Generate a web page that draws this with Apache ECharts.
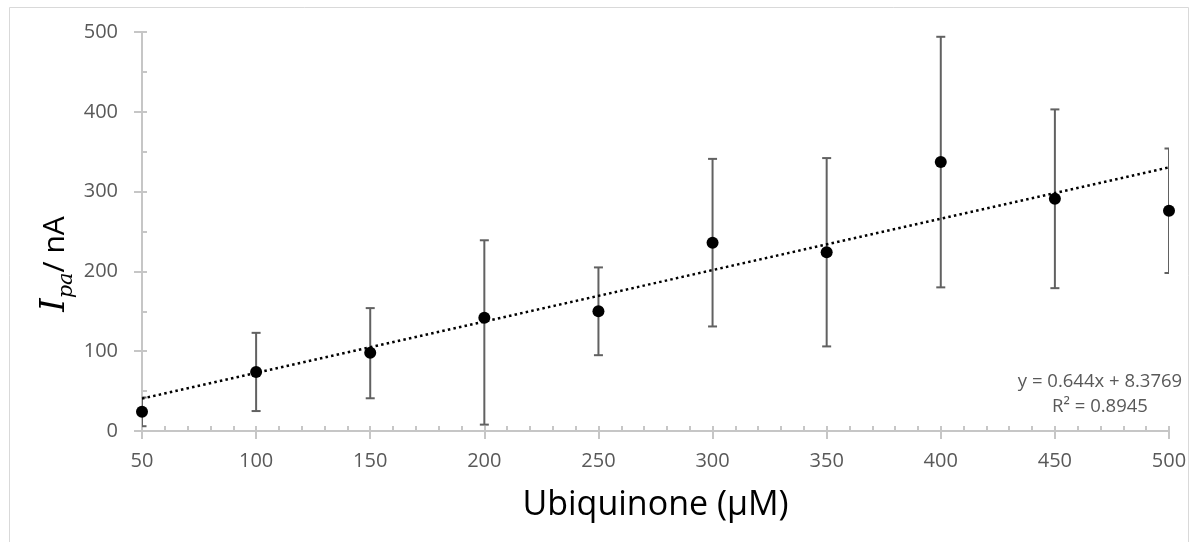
<!DOCTYPE html>
<html><head><meta charset="utf-8">
<script src="https://cdn.jsdelivr.net/npm/echarts@6/dist/echarts.min.js"></script>
<style>html,body{margin:0;padding:0;background:#fff}#c{width:1197px;height:542px}</style>
</head><body><div id="c"></div>
<script>
// Data
const concentrations = [50, 100, 150, 200, 250, 300, 350, 400, 450, 500];
const currentMeans   = [24, 74, 98, 142, 150, 236, 224, 337, 291, 276];
const errorUpper     = [18, 49, 56, 97, 55, 105, 118, 157, 112, 78];
const errorLower     = [18, 49, 57, 134, 55, 105, 118, 157, 112, 78];
const trendX = [50, 500];
const trendY = [40.6, 330.4];
const xTicks = [50, 100, 150, 200, 250, 300, 350, 400, 450, 500];
const yTicks = [0, 100, 200, 300, 400, 500];
const equationLines = ['y = 0.644x + 8.3769', 'R² = 0.8945'];

const axisGray = '#c6c6c6';
const labelGray = '#595959';
const FONT = '"Open Sans", sans-serif';

const chart = echarts.init(document.getElementById('c'), null, {renderer: 'canvas'});

const errorData = concentrations.map((x, i) => [x, currentMeans[i] - errorLower[i], currentMeans[i] + errorUpper[i]]);
const pointData = concentrations.map((x, i) => [x, currentMeans[i]]);
const trendData = trendX.map((x, i) => [x, trendY[i]]);

function mainAxis(isX) {
  return {
    type: 'value',
    min: isX ? xTicks[0] : yTicks[0],
    max: isX ? xTicks[xTicks.length - 1] : yTicks[yTicks.length - 1],
    interval: isX ? xTicks[1] - xTicks[0] : yTicks[1] - yTicks[0],
    axisLine: {show: true, onZero: false, lineStyle: {color: axisGray, width: 2}},
    axisTick: {show: true, inside: false, length: 8, lineStyle: {color: axisGray, width: 2}},
    minorTick: {show: false},
    splitLine: {show: false},
    axisLabel: {color: labelGray, fontSize: 20, fontFamily: FONT, margin: isX ? 20 : 24}
  };
}
function overlayAxis(isX) {
  return {
    type: 'value',
    position: isX ? 'bottom' : 'left',
    min: isX ? xTicks[0] : yTicks[0],
    max: isX ? xTicks[xTicks.length - 1] : yTicks[yTicks.length - 1],
    interval: isX ? xTicks[1] - xTicks[0] : yTicks[1] - yTicks[0],
    axisLine: {show: false, onZero: false},
    axisTick: {show: true, inside: true, length: 5, lineStyle: {color: axisGray, width: 2}},
    minorTick: {show: true, splitNumber: isX ? 5 : 2, length: 5, lineStyle: {color: axisGray, width: 2}},
    splitLine: {show: false},
    axisLabel: {show: false}
  };
}

const xMain = mainAxis(true);
xMain.name = 'Ubiquinone (µM)';
xMain.nameLocation = 'middle';
xMain.nameGap = 57;
xMain.nameTextStyle = {color: '#000', fontSize: 34, fontFamily: FONT};

const option = {
  animation: false,
  backgroundColor: '#fff',
  grid: {left: 142, right: 28, top: 32, bottom: 111, containLabel: false},
  xAxis: [xMain, overlayAxis(true)],
  yAxis: [mainAxis(false), overlayAxis(false)],
  series: [
    {
      type: 'custom', clip: true, z: 2,
      data: errorData,
      encode: {x: 0, y: [1, 2]},
      renderItem: function (params, api) {
        const x = api.value(0), lo = api.value(1), hi = api.value(2);
        const p1 = api.coord([x, hi]), p2 = api.coord([x, lo]);
        const w = 4.5;
        const style = {stroke: '#616161', lineWidth: 2, fill: null};
        return {type: 'group', children: [
          {type: 'line', shape: {x1: p1[0], y1: p1[1], x2: p2[0], y2: p2[1]}, style: style},
          {type: 'line', shape: {x1: p1[0] - w, y1: p1[1], x2: p1[0] + w, y2: p1[1]}, style: style},
          {type: 'line', shape: {x1: p2[0] - w, y1: p2[1], x2: p2[0] + w, y2: p2[1]}, style: style}
        ]};
      }
    },
    {
      type: 'line', z: 3, data: trendData, symbol: 'none', silent: true,
      lineStyle: {color: '#000', width: 2.5, type: [2.5, 3.2]}
    },
    {
      type: 'scatter', z: 4, data: pointData, symbol: 'circle', symbolSize: 12,
      itemStyle: {color: '#000', opacity: 1}
    }
  ],
  graphic: [
    {type: 'rect', silent: true, z: -10, shape: {x: 9.5, y: 7.5, width: 1179, height: 600},
     style: {fill: null, stroke: '#d9d9d9', lineWidth: 1}},
    {type: 'text', silent: true, x: 55, y: 264, rotation: Math.PI / 2,
     style: {
       text: '{i|I}{s|pa}{n|/ nA}',
       align: 'center', verticalAlign: 'middle',
       rich: {
         i: {fontFamily: '"DejaVu Serif", serif', fontStyle: 'italic', fontSize: 34, fill: '#000', lineHeight: 44, verticalAlign: 'middle'},
         s: {fontFamily: '"DejaVu Serif", serif', fontStyle: 'italic', fontSize: 21, fill: '#000', lineHeight: 44, verticalAlign: 'bottom'},
         n: {fontFamily: FONT, fontSize: 30, fill: '#000', lineHeight: 44, verticalAlign: 'middle'}
       }
     }},
    {type: 'text', silent: true, x: 1100, y: 382,
     style: {text: equationLines[0], align: 'center', verticalAlign: 'middle', fontSize: 18.5, fontFamily: FONT, fill: labelGray}},
    {type: 'text', silent: true, x: 1100, y: 407,
     style: {text: equationLines[1], align: 'center', verticalAlign: 'middle', fontSize: 18.5, fontFamily: FONT, fill: labelGray}}
  ]
};
chart.setOption(option);
</script>
</body></html>
